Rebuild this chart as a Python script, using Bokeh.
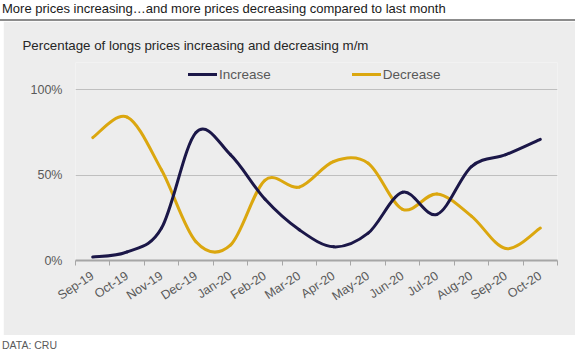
from bokeh.plotting import figure
from bokeh.layouts import column
from bokeh.models import (ColumnDataSource, FixedTicker, Legend, LegendItem, Range1d, Div)
from bokeh.embed import file_html
from bokeh.resources import INLINE

TITLE = "More prices increasing\u2026and more prices decreasing compared to last month"
SUBTITLE = "Percentage of longs prices increasing and decreasing m/m"
SOURCE = "DATA: CRU"

months = ["Sep-19", "Oct-19", "Nov-19", "Dec-19", "Jan-20", "Feb-20", "Mar-20",
          "Apr-20", "May-20", "Jun-20", "Jul-20", "Aug-20", "Sep-20", "Oct-20"]
increase = [2, 5, 19, 75, 62, 36, 18, 8, 16, 40, 27, 55, 62, 71]
decrease = [72, 84, 53, 11, 9, 47, 43, 58, 57, 30, 39, 26, 7, 19]
y_ticks = [0, 50, 100]
y_tick_labels = ["0%", "50%", "100%"]

FONT = "Liberation Sans"
NAVY = "#1b1748"
GOLD = "#dba70f"
PANEL = "#ededed"
TXT = "#595959"


def smooth_segments(vals):
    """Bezier segments (Catmull-Rom style) through the data points."""
    n = len(vals)
    xs = list(range(n))
    d = dict(x0=[], y0=[], x1=[], y1=[], cx0=[], cy0=[], cx1=[], cy1=[])
    for i in range(n - 1):
        xm, ym = xs[max(i - 1, 0)], vals[max(i - 1, 0)]
        xp, yp = xs[min(i + 2, n - 1)], vals[min(i + 2, n - 1)]
        d["x0"].append(xs[i]); d["y0"].append(vals[i])
        d["x1"].append(xs[i + 1]); d["y1"].append(vals[i + 1])
        d["cx0"].append(xs[i] + (xs[i + 1] - xm) / 6.0)
        d["cy0"].append(vals[i] + (vals[i + 1] - ym) / 6.0)
        d["cx1"].append(xs[i + 1] - (xp - xs[i]) / 6.0)
        d["cy1"].append(vals[i + 1] - (yp - vals[i]) / 6.0)
    return ColumnDataSource(d)


# ---- headline ----
head = Div(text=TITLE, width=575, height=21, margin=0,
           styles={"font-family": FONT, "font-size": "13px", "color": "#1a1a1a",
                   "border-bottom": "2px solid #8c8c8c", "box-sizing": "border-box",
                   "padding-left": "2px", "line-height": "18px", "white-space": "nowrap",
                   "background": "white"})

# ---- main chart ----
p = figure(width=572, height=314, x_range=Range1d(-0.5, 13.5), y_range=Range1d(0, 116),
           toolbar_location=None, output_backend="svg",
           min_border_left=72, min_border_right=18, min_border_top=41, min_border_bottom=75,
           background_fill_color=PANEL, border_fill_color=PANEL, outline_line_color=None,
           margin=(0, 0, 0, 3))

p.title.text = SUBTITLE
p.title.text_font = FONT
p.title.text_font_size = "13.3px"
p.title.text_font_style = "normal"
p.title.text_color = "#262626"
p.title.align = "left"
p.title.offset = -53
p.title.vertical_align = "top"
p.title.standoff = 15

src_inc = smooth_segments(increase)
src_dec = smooth_segments(decrease)
r_dec = p.bezier(x0="x0", y0="y0", x1="x1", y1="y1", cx0="cx0", cy0="cy0", cx1="cx1", cy1="cy1",
                 source=src_dec, line_color=GOLD, line_width=3, line_cap="round")
r_inc = p.bezier(x0="x0", y0="y0", x1="x1", y1="y1", cx0="cx0", cy0="cy0", cx1="cx1", cy1="cy1",
                 source=src_inc, line_color=NAVY, line_width=3, line_cap="round")

legend = Legend(items=[LegendItem(label="Increase", renderers=[r_inc]),
                       LegendItem(label="Decrease", renderers=[r_dec])],
                orientation="horizontal", location=(113, 176),
                padding=0, margin=0, spacing=81, glyph_width=29, glyph_height=20,
                label_standoff=2, label_text_font=FONT, label_text_font_size="13.5px",
                label_text_color=TXT, background_fill_alpha=0, border_line_color=None)
p.add_layout(legend, "center")

# axes
xa = p.xaxis[0]
xa.ticker = FixedTicker(ticks=list(range(len(months))),
                        minor_ticks=[i - 0.5 for i in range(len(months) + 1)])
xa.major_label_overrides = {i: m for i, m in enumerate(months)}
xa.major_label_orientation = 0.58
xa.major_tick_out = 0
xa.major_tick_in = 0
xa.minor_tick_out = 5
xa.minor_tick_in = 0
xa.minor_tick_line_color = "#a6a6a6"
xa.axis_line_color = "#a6a6a6"
xa.axis_line_width = 2
xa.minor_tick_line_width = 1
xa.major_label_standoff = 9
xa.major_label_text_font = FONT
xa.major_label_text_font_size = "12.5px"
xa.major_label_text_color = TXT

ya = p.yaxis[0]
ya.ticker = FixedTicker(ticks=y_ticks)
ya.major_label_overrides = {t: l for t, l in zip(y_ticks, y_tick_labels)}
ya.axis_line_color = None
ya.major_tick_line_color = None
ya.minor_tick_line_color = None
ya.major_tick_out = 0
ya.major_tick_in = 0
ya.major_label_standoff = 13
ya.major_label_text_font = FONT
ya.major_label_text_font_size = "12.5px"
ya.major_label_text_color = TXT

p.xgrid.visible = False
p.ygrid.ticker = FixedTicker(ticks=[50, 100])
p.ygrid.grid_line_color = "#bfbfbf"
p.ygrid.grid_line_width = 1

# ---- footer ----
foot = Div(text=SOURCE, width=575, height=18, margin=0,
           styles={"font-family": FONT, "font-size": "10.5px", "color": TXT,
                   "padding-left": "2px", "line-height": "20px", "white-space": "nowrap",
                   "box-sizing": "border-box", "background": "white"})

layout = column(head, p, foot, spacing=0)
open("out.html", "w").write(file_html(layout, INLINE))
